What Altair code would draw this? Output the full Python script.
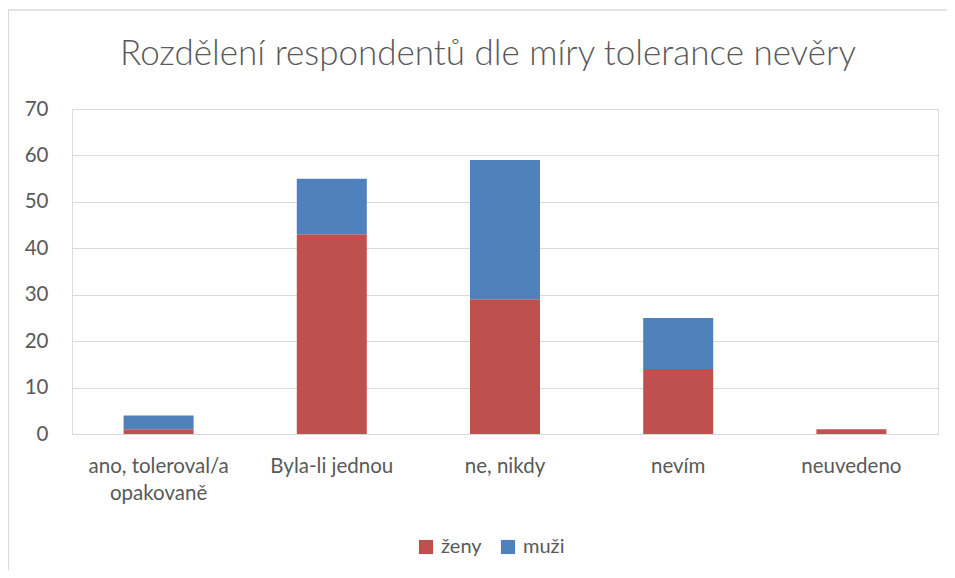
import altair as alt
import pandas as pd

categories = ["ano, toleroval/a opakovaně", "Byla-li jednou", "ne, nikdy", "nevím", "neuvedeno"]
zeny = [1, 43, 29, 14, 1]
muzi = [3, 12, 30, 11, 0]
series = ["ženy", "muži"]
colors = ["#c0504d", "#4f81bd"]

rows = []
for c, z, m in zip(categories, zeny, muzi):
    rows.append({"kat": c, "pohlavi": "ženy", "pocet": z, "ord": 0})
    rows.append({"kat": c, "pohlavi": "muži", "pocet": m, "ord": 1})
df = pd.DataFrame(rows)

FONT = "Lato"
GREY = "#595959"

bars = alt.Chart(df).mark_bar(size=70).encode(
    x=alt.X("kat:N", sort=categories, title=None,
            axis=alt.Axis(labelAngle=0, labelFontSize=20.5, labelColor=GREY, labelFont=FONT,
                          ticks=False, domainColor="#d9d9d9", labelPadding=22,
                          labelLineHeight=27,
                          labelExpr="datum.label == 'ano, toleroval/a opakovaně' ? ['ano, toleroval/a', 'opakovaně'] : datum.label")),
    y=alt.Y("pocet:Q", title=None, scale=alt.Scale(domain=[0, 70]),
            axis=alt.Axis(values=[0, 10, 20, 30, 40, 50, 60, 70], labelFontSize=20.5, labelColor=GREY,
                          labelFont=FONT, ticks=False, domain=False, gridColor="#d9d9d9",
                          labelPadding=24)),
    color=alt.Color("pohlavi:N", scale=alt.Scale(domain=series, range=colors),
                    legend=alt.Legend(title=None, orient="none", direction="horizontal",
                                      legendX=344, legendY=428, labelFontSize=20,
                                      labelFont=FONT, labelColor=GREY, symbolType="square",
                                      symbolSize=200, symbolStrokeWidth=0, columnPadding=16,
                                      labelOffset=5)),
    order=alt.Order("ord:Q"),
)

frame_left = alt.Chart(pd.DataFrame({"a": [0]})).mark_rule(color="#d9d9d9", strokeWidth=2).encode(
    x=alt.value(-64), y=alt.value(-99), y2=alt.value(470))
frame_top = alt.Chart(pd.DataFrame({"a": [0]})).mark_rule(color="#d9d9d9", strokeWidth=1.5).encode(
    x=alt.value(-65), x2=alt.value(890), y=alt.value(-99))

chart = alt.layer(bars, frame_left, frame_top).properties(
    width=866, height=325,
    title=alt.TitleParams("Rozdělení respondentů dle míry tolerance nevěry", fontSize=35,
                          font=FONT, color=GREY, fontWeight=300, offset=-63, anchor="middle", dx=-17),
    autosize=alt.AutoSizeParams(type="none"),
    padding={"left": 64, "top": 101, "right": 9, "bottom": 136},
).configure_view(stroke=None).configure(background="white")

chart.save("out.html", embed_options={"renderer": "svg", "actions": False})
